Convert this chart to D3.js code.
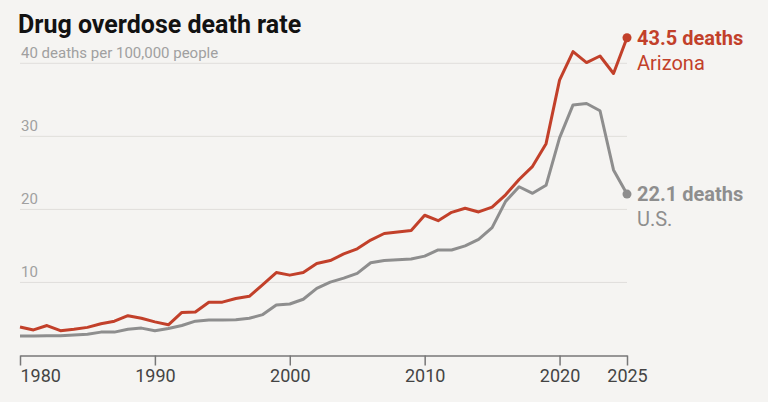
<!DOCTYPE html>
<html>
<head>
<meta charset="utf-8">
<script src="https://cdn.jsdelivr.net/npm/d3@7"></script>
<style>
  body { margin: 0; background: #f5f4f2; }
  svg { display: block; font-family: Roboto, "Liberation Sans", sans-serif; }
</style>
</head>
<body>
<script>
// overdose death rate, deaths per 100,000 people
var years = [1980, 1981, 1982, 1983, 1984, 1985, 1986, 1987, 1988, 1989,
             1990, 1991, 1992, 1993, 1994, 1995, 1996, 1997, 1998, 1999,
             2000, 2001, 2002, 2003, 2004, 2005, 2006, 2007, 2008, 2009,
             2010, 2011, 2012, 2013, 2014, 2015, 2016, 2017, 2018, 2019,
             2020, 2021, 2022, 2023, 2024, 2025];

var arizona = [3.9, 3.5, 4.1, 3.4, 3.6, 3.85, 4.35, 4.7, 5.45, 5.1,
               4.6, 4.2, 5.9, 5.95, 7.3, 7.3, 7.8, 8.1, 9.7, 11.35,
               11.0, 11.35, 12.6, 13.0, 13.9, 14.6, 15.8, 16.7, 16.9, 17.1,
               19.2, 18.45, 19.6, 20.15, 19.65, 20.3, 22.0, 24.1, 25.9, 29.0,
               37.7, 41.6, 40.1, 41.0, 38.6, 43.5];

var us = [2.67, 2.67, 2.7, 2.7, 2.8, 2.9, 3.2, 3.2, 3.6, 3.75,
          3.4, 3.7, 4.1, 4.7, 4.85, 4.85, 4.9, 5.1, 5.6, 6.9,
          7.05, 7.7, 9.2, 10.05, 10.6, 11.25, 12.7, 13.0, 13.1, 13.2,
          13.6, 14.45, 14.45, 15.0, 15.9, 17.5, 21.1, 23.1, 22.2, 23.3,
          29.8, 34.3, 34.5, 33.5, 25.4, 22.1];

var yTicks = [10, 20, 30, 40];
var xTicks = [1980, 1990, 2000, 2010, 2020, 2025];

var series = [
  {name: "Arizona", values: arizona, color: "#c2402a"},
  {name: "U.S.", values: us, color: "#8e8e8e"}
];

var width = 768, height = 402;

var x = d3.scaleLinear().domain([1980, 2025]).range([20, 627]);
var y = d3.scaleLinear().domain([0, 40]).range([355.5, 63.3]);

var svg = d3.select("body").append("svg")
    .attr("width", width)
    .attr("height", height);

// title
svg.append("text")
    .attr("x", 18)
    .attr("y", 33)
    .style("font-size", "25px")
    .style("font-weight", "700")
    .style("fill", "#121212")
    .text("Drug overdose death rate");

// gridlines + y labels
svg.selectAll(".grid")
    .data(yTicks)
    .enter().append("line")
    .attr("class", "grid")
    .attr("x1", x(1980))
    .attr("x2", x(2025))
    .attr("y1", function(d) { return y(d); })
    .attr("y2", function(d) { return y(d); })
    .style("stroke", "#e0dedb")
    .style("stroke-width", 1);

svg.selectAll(".ylab")
    .data(yTicks)
    .enter().append("text")
    .attr("class", "ylab")
    .attr("x", 21)
    .attr("y", function(d) { return y(d) - 5; })
    .style("font-size", "15px")
    .style("fill", "#a0a0a0")
    .text(function(d) { return d == 40 ? "40 deaths per 100,000 people" : d; });

// x axis
var xAxis = svg.append("g")
    .attr("transform", "translate(0," + y(0) + ")")
    .call(d3.axisBottom(x).tickValues(xTicks).tickFormat(d3.format("d")).tickSize(10).tickSizeOuter(0));

xAxis.select(".domain").style("stroke", "#777").style("stroke-width", 1.5);
xAxis.selectAll(".tick line").style("stroke", "#777").style("stroke-width", 1.5);
xAxis.selectAll(".tick text")
    .style("font-size", "18px")
    .style("font-family", "Roboto, sans-serif")
    .style("fill", "#444")
    .attr("y", 14)
    .attr("text-anchor", function(d) { return d == 1980 ? "start" : "middle"; });

// lines
var line = d3.line()
    .x(function(d, i) { return x(years[i]); })
    .y(function(d) { return y(d); });

svg.selectAll(".series")
    .data(series.slice().reverse())
    .enter().append("path")
    .attr("class", "series")
    .attr("d", function(s) { return line(s.values); })
    .style("fill", "none")
    .style("stroke", function(s) { return s.color; })
    .style("stroke-width", 3)
    .style("stroke-linejoin", "round");

// end dots + labels
series.forEach(function(s) {
  var last = s.values[s.values.length - 1];
  var cx = x(years[years.length - 1]), cy = y(last);

  svg.append("circle")
      .attr("cx", cx)
      .attr("cy", cy)
      .attr("r", 4.5)
      .style("fill", s.color);

  svg.append("text")
      .attr("x", cx + 10)
      .attr("y", cy + 7)
      .style("font-size", "20px")
      .style("font-weight", "700")
      .style("fill", s.color)
      .text(last + " deaths");

  svg.append("text")
      .attr("x", cx + 10)
      .attr("y", cy + 32)
      .style("font-size", "20px")
      .style("fill", s.color)
      .text(s.name);
});
</script>
</body>
</html>
